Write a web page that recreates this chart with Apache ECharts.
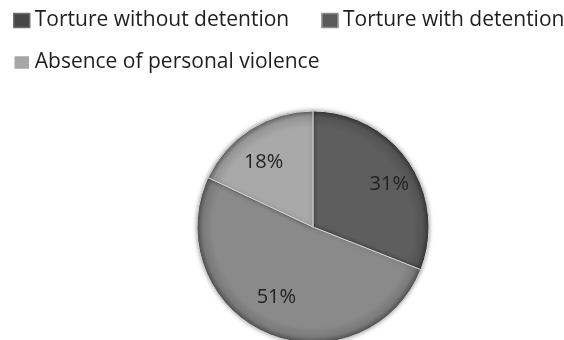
<!DOCTYPE html>
<html>
<head>
<meta charset="utf-8">
<script src="https://cdn.jsdelivr.net/npm/echarts@6/dist/echarts.min.js"></script>
<style>
  html, body { margin: 0; padding: 0; background: #fff; }
  #chart { width: 564px; height: 340px; }
</style>
</head>
<body>
<div id="chart"></div>
<script>
// Shares of respondents by kind of violence experienced (percent)
const categories = ['Torture without detention', 'Torture with detention', 'Absence of personal violence'];
const shares = [31, 51, 18];
const sliceColors = ['#5e5e5e', '#8a8a8a', '#a9a9a9'];
const legendColors = ['#474747', '#5a5a5a', '#a6a6a6'];

const CX = 313, CY = 227, R = 116;

function shade(hex, f) {
  const n = parseInt(hex.slice(1), 16);
  const c = [(n >> 16) & 255, (n >> 8) & 255, n & 255].map(v => Math.max(0, Math.min(255, Math.round(v * f))));
  return 'rgb(' + c.join(',') + ')';
}

// Slight rim darkening to give the pie its bevelled look
function sliceFill(hex) {
  return new echarts.graphic.RadialGradient(CX, CY, R, [
    { offset: 0, color: shade(hex, 1.0) },
    { offset: 0.86, color: shade(hex, 1.0) },
    { offset: 0.95, color: shade(hex, 0.88) },
    { offset: 1, color: shade(hex, 0.6) }
  ], true);
}

// Legend swatch: dark square with a lighter bevelled edge
function legendItem(i) {
  return {
    name: categories[i],
    itemStyle: { color: legendColors[i], borderColor: shade(legendColors[i], 1.55), borderWidth: 1.5 }
  };
}

const legendText = { fontFamily: 'Open Sans', fontSize: 21, color: '#1f1f1f' };

const pieData = categories.map((name, i) => ({
  name: name,
  value: shares[i],
  itemStyle: { color: sliceFill(sliceColors[i]) }
}));

const labelData = categories.map((name, i) => ({ name: name, value: shares[i] }));

const chart = echarts.init(document.getElementById('chart'), null, { renderer: 'canvas' });
chart.setOption({
  backgroundColor: '#ffffff',
  animation: false,
  legend: [
    {
      left: 13, top: 10, width: 560, padding: 0,
      orient: 'horizontal',
      itemWidth: 16, itemHeight: 14, itemGap: 32,
      icon: 'rect', selectedMode: false,
      textStyle: legendText,
      data: [legendItem(0), legendItem(1)]
    },
    {
      left: 13, top: 52, width: 560, padding: 0,
      orient: 'horizontal',
      itemWidth: 16, itemHeight: 14,
      icon: 'rect', selectedMode: false,
      textStyle: legendText,
      data: [legendItem(2)]
    }
  ],
  series: [
    {
      type: 'pie',
      center: [CX, CY],
      radius: [0, R],
      startAngle: 90,
      clockwise: true,
      silent: true,
      label: { show: false },
      labelLine: { show: false },
      itemStyle: {
        borderColor: '#d4d4d4', borderWidth: 1,
        shadowBlur: 4, shadowColor: 'rgba(0,0,0,0.35)'
      },
      data: pieData
    },
    {
      // label-only ring so the percentages sit toward the outer part of each slice
      type: 'pie',
      center: [CX, CY],
      radius: [52, R],
      startAngle: 90,
      clockwise: true,
      silent: true,
      itemStyle: { color: 'transparent' },
      label: {
        show: true,
        position: 'inside',
        formatter: '{c}%',
        fontFamily: 'Open Sans',
        fontSize: 20,
        color: '#222222'
      },
      labelLine: { show: false },
      // pull labels slightly toward the horizontal midline of the pie
      labelLayout: function (params) {
        const r = params.labelRect;
        const lx = r.x + r.width / 2;
        const ly = r.y + r.height / 2;
        return { x: CX + (lx - CX) * 1.06, y: CY + (ly - CY) * 0.88 };
      },
      data: labelData
    }
  ]
});
</script>
</body>
</html>
